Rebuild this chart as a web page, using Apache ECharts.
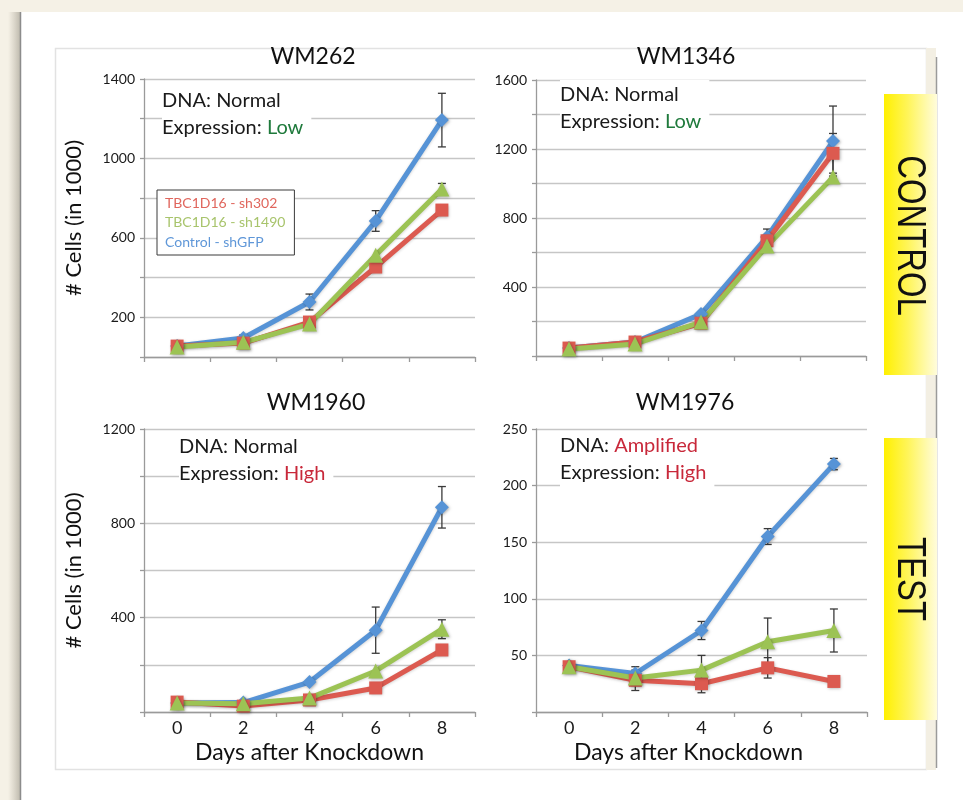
<!DOCTYPE html>
<html>
<head>
<meta charset="utf-8">
<title>TBC1D16 knockdown growth curves</title>
<script src="https://cdn.jsdelivr.net/npm/echarts@6/dist/echarts.min.js"></script>
<style>
  html, body { margin: 0; padding: 0; background: #f5f1e6; }
  #chart { width: 963px; height: 800px; }
</style>
</head>
<body>
<div id="chart"></div>
<script>
// ---- data -------------------------------------------------------------
const days = ['0', '2', '4', '6', '8'];
const seriesNames = ['TBC1D16 - sh302', 'TBC1D16 - sh1490', 'Control - shGFP'];

// WM262 (cells in 1000)
const wm262_sh302 = [55, 70, 176, 453, 740];
const wm262_sh1490 = [50, 74, 166, 513, 846];
const wm262_shGFP = [55, 96, 277, 685, 1193];
const wm262_sh302Err = [0, 0, 0, 0, 0];
const wm262_sh1490Err = [0, 0, 0, 0, 28];
const wm262_shGFPErr = [0, 15, 40, 52, 135];
const wm262Ticks = [200, 600, 1000, 1400];

// WM1346
const wm1346_sh302 = [46, 81, 190, 668, 1175];
const wm1346_sh1490 = [40, 70, 197, 637, 1037];
const wm1346_shGFP = [46, 81, 243, 690, 1246];
const wm1346_sh302Err = [0, 0, 0, 0, 115];
const wm1346_sh1490Err = [0, 0, 0, 0, 0];
const wm1346_shGFPErr = [0, 0, 0, 46, 203];
const wm1346Ticks = [400, 800, 1200, 1600];

// WM1960
const wm1960_sh302 = [42, 25, 51, 102, 263];
const wm1960_sh1490 = [38, 35, 59, 174, 351];
const wm1960_shGFP = [38, 40, 127, 347, 868];
const wm1960_sh302Err = [0, 0, 0, 0, 0];
const wm1960_sh1490Err = [0, 0, 0, 0, 40];
const wm1960_shGFPErr = [0, 0, 0, 98, 88];
const wm1960Ticks = [400, 800, 1200];

// WM1976
const wm1976_sh302 = [40, 28, 25, 39, 27];
const wm1976_sh1490 = [40, 30, 37, 62, 72];
const wm1976_shGFP = [41, 34, 72, 155, 219];
const wm1976_sh302Err = [0, 9, 8, 9, 0];
const wm1976_sh1490Err = [0, 0, 13, 21, 19];
const wm1976_shGFPErr = [0, 6, 8, 7, 5];
const wm1976Ticks = [50, 100, 150, 200, 250];

// ---- panel description ---------------------------------------------------
const panels = [
  { name: 'WM262', dna: 'Normal', expr: 'Low', max: 1400, step: 200, ticks: wm262Ticks,
    red: wm262_sh302, green: wm262_sh1490, blue: wm262_shGFP,
    redErr: wm262_sh302Err, greenErr: wm262_sh1490Err, blueErr: wm262_shGFPErr },
  { name: 'WM1346', dna: 'Normal', expr: 'Low', max: 1600, step: 200, ticks: wm1346Ticks,
    red: wm1346_sh302, green: wm1346_sh1490, blue: wm1346_shGFP,
    redErr: wm1346_sh302Err, greenErr: wm1346_sh1490Err, blueErr: wm1346_shGFPErr },
  { name: 'WM1960', dna: 'Normal', expr: 'High', max: 1200, step: 200, ticks: wm1960Ticks,
    red: wm1960_sh302, green: wm1960_sh1490, blue: wm1960_shGFP,
    redErr: wm1960_sh302Err, greenErr: wm1960_sh1490Err, blueErr: wm1960_shGFPErr },
  { name: 'WM1976', dna: 'Amplified', expr: 'High', max: 250, step: 50, ticks: wm1976Ticks,
    red: wm1976_sh302, green: wm1976_sh1490, blue: wm1976_shGFP,
    redErr: wm1976_sh302Err, greenErr: wm1976_sh1490Err, blueErr: wm1976_shGFPErr }
];

// ---- layout & style ------------------------------------------------------
const FONT = 'Lato, "Open Sans", sans-serif';
const RED = '#dc5a50', GREEN = '#9cc354', BLUE = '#5693d6';
const GOOD = '#1f7a3c', BAD = '#c8283a';

const grids = [
  { left: 144, top: 79, width: 331, height: 278 },
  { left: 536, top: 80, width: 330, height: 276 },
  { left: 144, top: 429, width: 331, height: 283 },
  { left: 536, top: 429, width: 331, height: 283 }
];
const titlePos = [[313, 57], [686, 57], [316, 403], [685, 403]];
const notePos = [[162, 86], [560, 80], [179, 432], [560, 431]];

const series = [];
const xAxes = [];
const yAxes = [];
const graphics = [];

// page, card and panel frame
graphics.push(
  { type: 'rect', z: -20, shape: { x: 20, y: 12, width: 943, height: 788 }, style: { fill: '#ffffff' } },
  { type: 'rect', z: -20, shape: { x: 8, y: 12, width: 12, height: 788 },
    style: { fill: new echarts.graphic.LinearGradient(0, 0, 1, 0, [
      { offset: 0, color: 'rgba(120,110,90,0)' }, { offset: 1, color: 'rgba(90,85,70,0.35)' }]) } },
  { type: 'line', z: -19, shape: { x1: 20.5, y1: 12, x2: 20.5, y2: 800 }, style: { stroke: '#8c8c8c', lineWidth: 1.5 } },
  { type: 'rect', z: -19, shape: { x: 55.5, y: 48.5, width: 871, height: 721 },
    style: { fill: '#ffffff', stroke: '#e2e2e2', lineWidth: 1.5 } },
  { type: 'rect', z: -18, shape: { x: 926, y: 48, width: 10, height: 722 }, style: { fill: '#f3efe3' } },
  { type: 'line', z: -17, shape: { x1: 936.5, y1: 57, x2: 936.5, y2: 768 }, style: { stroke: '#9a9a9a', lineWidth: 1.5 } }
);

// side tags
const yellow = () => new echarts.graphic.LinearGradient(0, 0, 1, 0, [
  { offset: 0, color: '#fff000' }, { offset: 0.45, color: '#fff55a' }, { offset: 1, color: '#fffcdc' }]);
[['CONTROL', 94, 375], ['TEST', 438, 720]].forEach(([label, y0, y1]) => {
  graphics.push({ type: 'rect', z: 5, shape: { x: 884, y: y0, width: 53, height: y1 - y0 }, style: { fill: yellow() } });
  graphics.push({ type: 'text', z: 6, x: 909, y: (y0 + y1) / 2 + (label === 'CONTROL' ? 1 : 0),
    rotation: -Math.PI / 2, scaleX: 0.8,
    style: { text: label, font: '41px "Liberation Sans", Arial, sans-serif', fill: '#111',
      align: 'center', verticalAlign: 'middle' } });
});

panels.forEach((p, i) => {
  const bottom = i >= 2;
  const left = i % 2 === 0;
  xAxes.push({
    type: 'category', gridIndex: i, data: days, boundaryGap: true,
    axisLine: { lineStyle: { color: '#9a9a9a', width: 1.3 } },
    axisTick: { show: true, length: 5, interval: 0, lineStyle: { color: '#9a9a9a', width: 1.3 } },
    axisLabel: { show: bottom, margin: 7, fontSize: 18, color: '#1a1a1a', fontFamily: FONT },
    name: bottom ? 'Days after Knockdown' : '', nameLocation: 'middle', nameGap: 29,
    nameTextStyle: { fontSize: 23, color: '#111', fontFamily: FONT, padding: i === 3 ? [0, 26, 0, 0] : 0 }
  });
  yAxes.push({
    type: 'value', gridIndex: i, min: 0, max: p.max, interval: p.step,
    axisLine: { show: true, lineStyle: { color: '#9a9a9a', width: 1.3 } },
    axisTick: { show: true, length: 4, lineStyle: { color: '#9a9a9a', width: 1.3 } },
    splitLine: { lineStyle: { color: '#c6c6c6', width: 1.3 } },
    axisLabel: { margin: 9, fontSize: 14, color: '#1a1a1a', fontFamily: FONT,
      formatter: v => (p.ticks.indexOf(v) >= 0 ? String(v) : '') },
    name: left ? '# Cells (in 1000)' : '', nameLocation: 'middle', nameRotate: 90, nameGap: 59,
    nameTextStyle: { fontSize: 22, color: '#111', fontFamily: FONT }
  });

  const lines = [
    { name: seriesNames[2], vals: p.blue, err: p.blueErr, color: BLUE, symbol: 'diamond', size: 14 },
    { name: seriesNames[0], vals: p.red, err: p.redErr, color: RED, symbol: 'rect', size: 13 },
    { name: seriesNames[1], vals: p.green, err: p.greenErr, color: GREEN, symbol: 'triangle', size: 15 }
  ];
  lines.forEach(l => {
    // error bars drawn beneath the lines
    series.push({
      type: 'custom', xAxisIndex: i, yAxisIndex: i, z: 1, silent: true,
      data: l.vals.map((v, k) => [k, v, l.err[k]]),
      renderItem: (params, api) => {
        const e = api.value(2);
        if (!e) return null;
        const x = api.value(0), y = api.value(1);
        const hi = api.coord([x, y + e]);
        const lo = api.coord([x, y - e]);
        const st = { stroke: '#3a3a3a', lineWidth: 1.3 };
        return { type: 'group', children: [
          { type: 'line', shape: { x1: hi[0], y1: hi[1], x2: lo[0], y2: lo[1] }, style: st },
          { type: 'line', shape: { x1: hi[0] - 4, y1: hi[1], x2: hi[0] + 4, y2: hi[1] }, style: st },
          { type: 'line', shape: { x1: lo[0] - 4, y1: lo[1], x2: lo[0] + 4, y2: lo[1] }, style: st }
        ] };
      }
    });
    series.push({
      type: 'line', name: l.name, xAxisIndex: i, yAxisIndex: i, z: 2,
      data: l.vals, symbol: l.symbol, symbolSize: l.size, showSymbol: true,
      lineStyle: { color: l.color, width: 5, shadowColor: 'rgba(0,0,0,0.18)', shadowBlur: 3, shadowOffsetY: 1 },
      itemStyle: { color: l.color, shadowColor: 'rgba(0,0,0,0.3)', shadowBlur: 3, shadowOffsetX: 1, shadowOffsetY: 1 },
      emphasis: { disabled: true }, animation: false
    });
  });

  // panel title
  graphics.push({ type: 'text', z: 10, x: titlePos[i][0], y: titlePos[i][1],
    style: { text: p.name, font: '23px ' + FONT, fill: '#111', align: 'center', verticalAlign: 'middle' } });

  // DNA / expression note
  const dnaKey = p.dna === 'Normal' ? 'k' : 'bad';
  const exprKey = p.expr === 'Low' ? 'good' : 'bad';
  graphics.push({ type: 'text', z: 10, x: notePos[i][0], y: notePos[i][1],
    style: {
      text: '{k|DNA: }{' + dnaKey + '|' + p.dna + '}\n{k|Expression: }{' + exprKey + '|' + p.expr + '}',
      backgroundColor: '#ffffff', padding: [1, 8, 1, 0],
      rich: {
        k: { fontSize: 20, fontFamily: FONT, fill: '#1a1a1a', lineHeight: 27 },
        good: { fontSize: 20, fontFamily: FONT, fill: GOOD, lineHeight: 27 },
        bad: { fontSize: 20, fontFamily: FONT, fill: BAD, lineHeight: 27 }
      }
    } });
});

const chart = echarts.init(document.getElementById('chart'), null, { renderer: 'canvas' });
chart.setOption({
  backgroundColor: '#f5f1e6',
  animation: false,
  grid: grids,
  xAxis: xAxes,
  yAxis: yAxes,
  legend: {
    left: 157, top: 190, orient: 'vertical', icon: 'none', itemWidth: 0, itemHeight: 14, itemGap: 5.5,
    padding: [6, 9, 6, 3], borderColor: '#3a3a3a', borderWidth: 1, backgroundColor: '#ffffff',
    selectedMode: false, z: 20,
    textStyle: { fontSize: 14, fontFamily: FONT },
    data: [
      { name: seriesNames[0], textStyle: { color: '#e0665d' } },
      { name: seriesNames[1], textStyle: { color: '#a8c46c' } },
      { name: seriesNames[2], textStyle: { color: '#5f97d8' } }
    ]
  },
  graphic: graphics,
  series: series
});
</script>
</body>
</html>
